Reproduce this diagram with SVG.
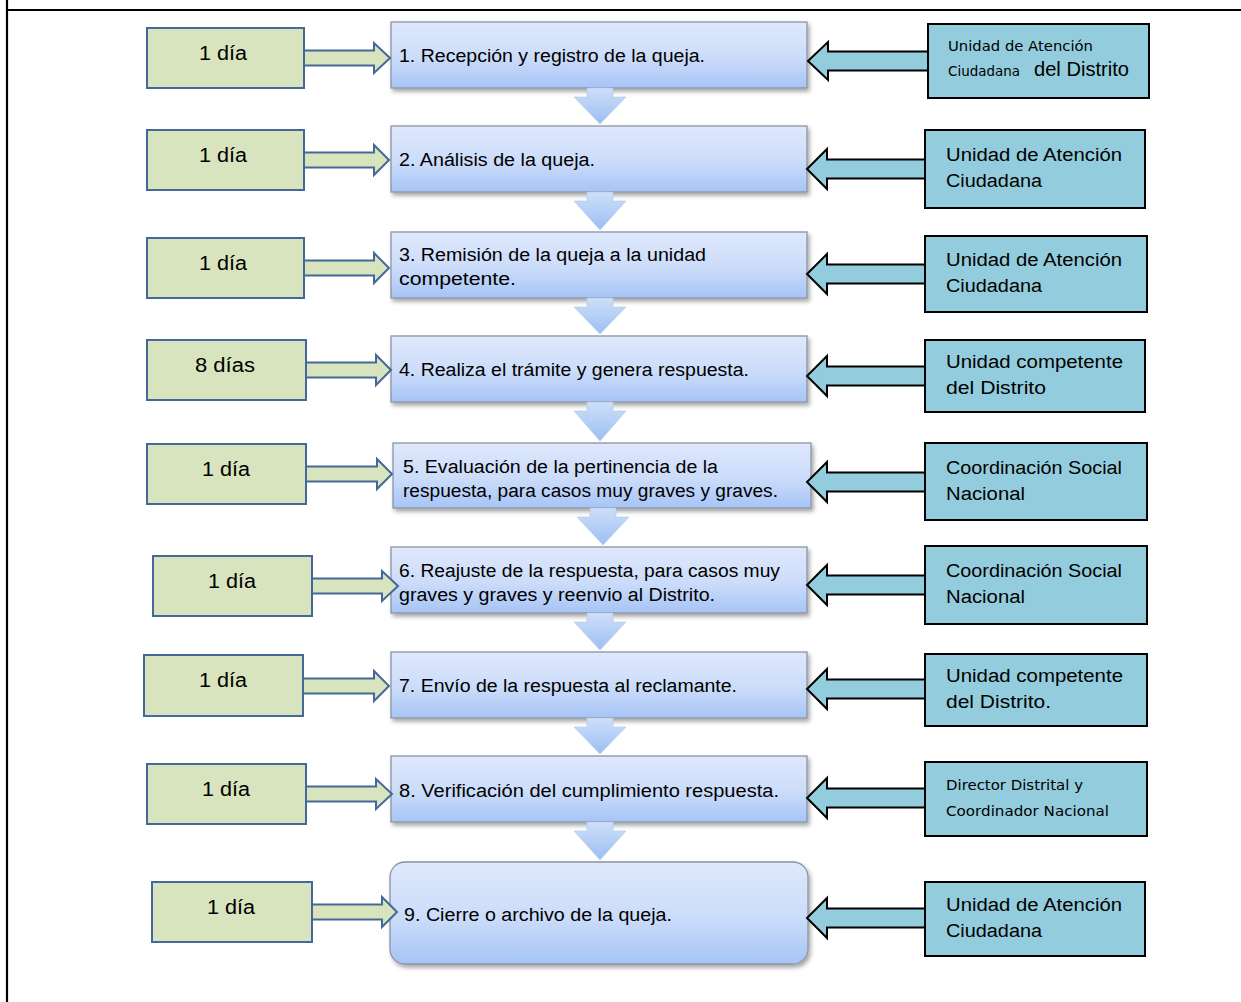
<svg xmlns="http://www.w3.org/2000/svg" width="1241" height="1002" viewBox="0 0 1241 1002">
<defs>
<linearGradient id="gBox" x1="0" y1="0" x2="0" y2="1">
<stop offset="0" stop-color="#dfe8fc"/>
<stop offset="0.55" stop-color="#cbdcfa"/>
<stop offset="1" stop-color="#a6c4f6"/>
</linearGradient>
<linearGradient id="gDown" x1="0" y1="0" x2="0" y2="1">
<stop offset="0" stop-color="#cddff8"/>
<stop offset="1" stop-color="#9dbff4"/>
</linearGradient>
<filter id="sh" x="-5%" y="-10%" width="112%" height="130%">
<feDropShadow dx="2" dy="3" stdDeviation="2" flood-color="#000" flood-opacity="0.35"/>
</filter>
</defs>
<style>
.frame{stroke:#000;stroke-width:2.2;fill:none}
.mid{fill:url(#gBox);stroke:#8a94a3;stroke-width:1.3;filter:url(#sh)}
.down{fill:url(#gDown);stroke:#b4c8e6;stroke-width:0.6}
.gArr{fill:#d7e4bd;stroke:#44689a;stroke-width:2}
.bArr{fill:#93cddd;stroke:#000;stroke-width:2}
.gBox{fill:#d7e4bd;stroke:#44689a;stroke-width:2}
.bBox{fill:#93cddd;stroke:#000;stroke-width:2}
.t{font-family:"Liberation Sans",Arial,sans-serif;fill:#000}
.mt{font-size:18px}
.lt{font-size:20px}
.rt{font-size:18px}
.st{font-family:"DejaVu Sans",Verdana,sans-serif;font-size:14px;fill:#000}
</style>
<path class="frame" d="M7,0 V1002 M6,10 H1241"/>

<g id="step1"><rect class="mid" x="391" y="22" width="416" height="66"/><text class="t mt" x="399" y="62" textLength="306" lengthAdjust="spacingAndGlyphs">1. Recepción y registro de la queja.</text></g>
<g id="step2"><rect class="mid" x="391" y="126" width="416" height="66"/><text class="t mt" x="399" y="166" textLength="196" lengthAdjust="spacingAndGlyphs">2. Análisis de la queja.</text></g>
<g id="step3"><rect class="mid" x="391" y="232" width="416" height="66"/><text class="t mt" x="399" y="261" textLength="307" lengthAdjust="spacingAndGlyphs">3. Remisión de la queja a la unidad</text><text class="t mt" x="399" y="285" textLength="117" lengthAdjust="spacingAndGlyphs">competente.</text></g>
<g id="step4"><rect class="mid" x="391" y="336" width="416" height="66"/><text class="t mt" x="399" y="376" textLength="350" lengthAdjust="spacingAndGlyphs">4. Realiza el trámite y genera respuesta.</text></g>
<g id="step5"><rect class="mid" x="393" y="443" width="418" height="65"/><text class="t mt" x="403" y="473" textLength="315" lengthAdjust="spacingAndGlyphs">5. Evaluación de la pertinencia de la</text><text class="t mt" x="403" y="497" textLength="375" lengthAdjust="spacingAndGlyphs">respuesta, para casos muy graves y graves.</text></g>
<g id="step6"><rect class="mid" x="391" y="547" width="416" height="66"/><text class="t mt" x="399" y="577" textLength="381" lengthAdjust="spacingAndGlyphs">6. Reajuste de la respuesta, para casos muy</text><text class="t mt" x="399" y="601" textLength="316" lengthAdjust="spacingAndGlyphs">graves y graves y reenvio al Distrito.</text></g>
<g id="step7"><rect class="mid" x="391" y="652" width="416" height="66"/><text class="t mt" x="399" y="692" textLength="338" lengthAdjust="spacingAndGlyphs">7. Envío de la respuesta al reclamante.</text></g>
<g id="step8"><rect class="mid" x="391" y="756" width="416" height="66"/><text class="t mt" x="399" y="797" textLength="380" lengthAdjust="spacingAndGlyphs">8. Verificación del cumplimiento respuesta.</text></g>
<g id="step9"><rect class="mid" x="390" y="862" width="418" height="102" rx="15" ry="15"/><text class="t mt" x="404" y="921" textLength="268" lengthAdjust="spacingAndGlyphs">9. Cierre o archivo de la queja.</text></g>

<g id="connectors">
<path class="down" d="M587,88 H613 V97 H626 L600,124 L574,97 H587 Z"/>
<path class="down" d="M587,192 H613 V201 H626 L600,230 L574,201 H587 Z"/>
<path class="down" d="M587,298 H613 V307 H626 L600,334 L574,307 H587 Z"/>
<path class="down" d="M587,402 H613 V411 H626 L600,441 L574,411 H587 Z"/>
<path class="down" d="M590,508 H616 V517 H629 L603,545 L577,517 H590 Z"/>
<path class="down" d="M587,613 H613 V622 H626 L600,650 L574,622 H587 Z"/>
<path class="down" d="M587,718 H613 V727 H626 L600,754 L574,727 H587 Z"/>
<path class="down" d="M587,822 H613 V831 H626 L600,860 L574,831 H587 Z"/>

<path class="gArr" d="M300,50.5 H374 V43 L390,58 L374,73 V65.5 H300 Z"/>
<path class="gArr" d="M300,152.5 H374 V145 L389,160 L374,175 V167.5 H300 Z"/>
<path class="gArr" d="M300,260.5 H374 V253 L389,268 L374,283 V275.5 H300 Z"/>
<path class="gArr" d="M302,362.5 H376 V355 L391,370 L376,385 V377.5 H302 Z"/>
<path class="gArr" d="M302,466.5 H377 V459 L392,474 L377,489 V481.5 H302 Z"/>
<path class="gArr" d="M308,578.5 H382 V571 L398,586 L382,601 V593.5 H308 Z"/>
<path class="gArr" d="M299,678.5 H374 V671 L389,686 L374,701 V693.5 H299 Z"/>
<path class="gArr" d="M302,786.5 H376 V779 L392,794 L376,809 V801.5 H302 Z"/>
<path class="gArr" d="M308,904.5 H382 V897 L397,912 L382,927 V919.5 H308 Z"/>

<path class="bArr" d="M932,51.5 H828 V42 L808,61 L828,80 V70.5 H932 Z"/>
<path class="bArr" d="M929,159.5 H827 V149 L807,169 L827,189 V178.5 H929 Z"/>
<path class="bArr" d="M929,264.5 H827 V254 L807,274 L827,294 V283.5 H929 Z"/>
<path class="bArr" d="M929,366.5 H827 V356 L807,376 L827,396 V385.5 H929 Z"/>
<path class="bArr" d="M929,472.5 H827 V462 L807,482 L827,502 V491.5 H929 Z"/>
<path class="bArr" d="M929,575.5 H827 V565 L807,585 L827,605 V594.5 H929 Z"/>
<path class="bArr" d="M929,679.5 H827 V669 L807,689 L827,709 V698.5 H929 Z"/>
<path class="bArr" d="M929,788.5 H827 V778 L807,798 L827,818 V807.5 H929 Z"/>
<path class="bArr" d="M929,908.5 H827 V898 L807,918 L827,938 V927.5 H929 Z"/>
</g>

<g id="time1"><rect class="gBox" x="147" y="28" width="157" height="60"/><text class="t lt" x="199" y="60" textLength="48" lengthAdjust="spacingAndGlyphs">1 día</text></g>
<g id="time2"><rect class="gBox" x="147" y="130" width="157" height="60"/><text class="t lt" x="199" y="162" textLength="48" lengthAdjust="spacingAndGlyphs">1 día</text></g>
<g id="time3"><rect class="gBox" x="147" y="238" width="157" height="60"/><text class="t lt" x="199" y="270" textLength="48" lengthAdjust="spacingAndGlyphs">1 día</text></g>
<g id="time4"><rect class="gBox" x="147" y="340" width="159" height="60"/><text class="t lt" x="195" y="372" textLength="60" lengthAdjust="spacingAndGlyphs">8 días</text></g>
<g id="time5"><rect class="gBox" x="147" y="444" width="159" height="60"/><text class="t lt" x="202" y="476" textLength="48" lengthAdjust="spacingAndGlyphs">1 día</text></g>
<g id="time6"><rect class="gBox" x="153" y="556" width="159" height="60"/><text class="t lt" x="208" y="588" textLength="48" lengthAdjust="spacingAndGlyphs">1 día</text></g>
<g id="time7"><rect class="gBox" x="144" y="655" width="159" height="61"/><text class="t lt" x="199" y="687" textLength="48" lengthAdjust="spacingAndGlyphs">1 día</text></g>
<g id="time8"><rect class="gBox" x="147" y="764" width="159" height="60"/><text class="t lt" x="202" y="796" textLength="48" lengthAdjust="spacingAndGlyphs">1 día</text></g>
<g id="time9"><rect class="gBox" x="152" y="882" width="160" height="60"/><text class="t lt" x="207" y="914" textLength="48" lengthAdjust="spacingAndGlyphs">1 día</text></g>

<g id="resp1"><rect class="bBox" x="928" y="24" width="221" height="74"/><text class="st" x="948" y="51" textLength="145" lengthAdjust="spacingAndGlyphs">Unidad de Atención</text><text class="st" x="948" y="76" textLength="72" lengthAdjust="spacingAndGlyphs">Ciudadana</text><text class="t" font-size="19.5" x="1034" y="76" textLength="95" lengthAdjust="spacingAndGlyphs">del Distrito</text></g>
<g id="resp2"><rect class="bBox" x="925" y="130" width="220" height="78"/><text class="t rt" x="946" y="161" textLength="176" lengthAdjust="spacingAndGlyphs">Unidad de Atención</text><text class="t rt" x="946" y="187" textLength="96" lengthAdjust="spacingAndGlyphs">Ciudadana</text></g>
<g id="resp3"><rect class="bBox" x="925" y="236" width="222" height="76"/><text class="t rt" x="946" y="266" textLength="176" lengthAdjust="spacingAndGlyphs">Unidad de Atención</text><text class="t rt" x="946" y="292" textLength="96" lengthAdjust="spacingAndGlyphs">Ciudadana</text></g>
<g id="resp4"><rect class="bBox" x="925" y="340" width="220" height="72"/><text class="t rt" x="946" y="368" textLength="177" lengthAdjust="spacingAndGlyphs">Unidad competente</text><text class="t rt" x="946" y="394" textLength="100" lengthAdjust="spacingAndGlyphs">del Distrito</text></g>
<g id="resp5"><rect class="bBox" x="925" y="443" width="222" height="77"/><text class="t rt" x="946" y="474" textLength="176" lengthAdjust="spacingAndGlyphs">Coordinación Social</text><text class="t rt" x="946" y="500" textLength="79" lengthAdjust="spacingAndGlyphs">Nacional</text></g>
<g id="resp6"><rect class="bBox" x="925" y="546" width="222" height="78"/><text class="t rt" x="946" y="577" textLength="176" lengthAdjust="spacingAndGlyphs">Coordinación Social</text><text class="t rt" x="946" y="603" textLength="79" lengthAdjust="spacingAndGlyphs">Nacional</text></g>
<g id="resp7"><rect class="bBox" x="925" y="654" width="222" height="72"/><text class="t rt" x="946" y="682" textLength="177" lengthAdjust="spacingAndGlyphs">Unidad competente</text><text class="t rt" x="946" y="708" textLength="105" lengthAdjust="spacingAndGlyphs">del Distrito.</text></g>
<g id="resp8"><rect class="bBox" x="925" y="762" width="222" height="74"/><text class="st" font-size="14.5" x="946" y="790" textLength="137" lengthAdjust="spacingAndGlyphs">Director Distrital y</text><text class="st" font-size="14.5" x="946" y="816" textLength="163" lengthAdjust="spacingAndGlyphs">Coordinador Nacional</text></g>
<g id="resp9"><rect class="bBox" x="925" y="882" width="220" height="74"/><text class="t rt" x="946" y="911" textLength="176" lengthAdjust="spacingAndGlyphs">Unidad de Atención</text><text class="t rt" x="946" y="937" textLength="96" lengthAdjust="spacingAndGlyphs">Ciudadana</text></g>
</svg>
